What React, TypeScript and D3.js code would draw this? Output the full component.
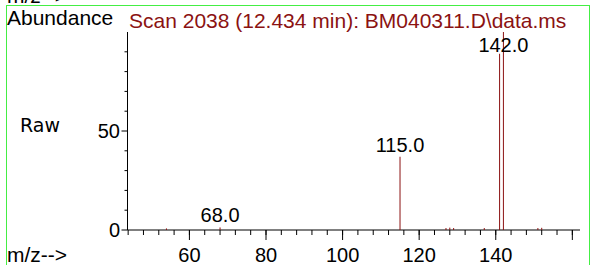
import React from "react";
import * as d3 from "d3";

// spectrum peaks (m/z, abundance)
const mzValues = [54, 68, 115, 127, 128, 129, 137, 141, 142, 151, 152];
const abundances = [0.8, 1.3, 37, 1, 1.2, 1, 1, 89, 100, 1, 1.1];
const labelledPeaks = [68, 115, 142];
const xTickLabels = [60, 80, 100, 120, 140];
const yTickLabels = [0, 50];
const title = "Scan 2038 (12.434 min): BM040311.D\\data.ms";

const W = 591, H = 265;
const FONT = "'Liberation Sans', Arial, sans-serif";
const RED = "#8b1212";

export default function App() {
  const x = d3.scaleLinear().domain([43.7, 162]).range([127, 580]);
  const y = d3.scaleLinear().domain([0, 100]).range([230, 32]);

  const minorX = d3.range(44, 161, 4);
  const majorX = d3.range(60, 161, 20);
  const minorY = d3.range(10, 100, 10).filter(v => v !== 50);

  return (
    <svg width={W} height={H} style={{ position: "absolute", left: 0, top: 0, background: "#fff" }}>
      {/* frame */}
      <rect x={6.5} y={5.5} width={583} height={H} fill="none" stroke="#44ee44" strokeWidth={1} />
      {/* clipped remnant of the panel above */}
      <text x={7} y={3} fontFamily={FONT} fontSize={21} fill="#000">m/z--&gt;</text>

      <text x={7} y={25} fontFamily={FONT} fontSize={21} fill="#000">Abundance</text>
      <text x={129} y={28} fontFamily={FONT} fontSize={21} fill={RED}>{title}</text>
      <text x={20} y={132} fontFamily="'DejaVu Sans', sans-serif" fontSize={19} fill="#000">Raw</text>
      <text x={7} y={262} fontFamily={FONT} fontSize={21} fill="#000">m/z--&gt;</text>

      {/* y axis */}
      <line x1={127.5} x2={127.5} y1={y(100)} y2={y(0)} stroke="#000" />
      {minorY.map(v => (
        <line key={"my" + v} x1={124.5} x2={127.5} y1={y(v)} y2={y(v)} stroke="#000" />
      ))}
      {yTickLabels.map(v => (
        <g key={"y" + v}>
          <line x1={121.5} x2={127.5} y1={y(v)} y2={y(v)} stroke="#000" />
          <text x={120} y={y(v)} dy="0.35em" textAnchor="end" fontFamily={FONT} fontSize={20}>{v}</text>
        </g>
      ))}

      {/* x axis */}
      <line x1={127.5} x2={580} y1={y(0)} y2={y(0)} stroke="#000" />
      {minorX.map(v => (
        <line key={"mx" + v} x1={x(v)} x2={x(v)} y1={y(0)} y2={y(0) + 5} stroke="#000" />
      ))}
      {majorX.map(v => (
        <line key={"Mx" + v} x1={x(v)} x2={x(v)} y1={y(0)} y2={y(0) + 10} stroke="#000" />
      ))}
      {xTickLabels.map(v => (
        <text key={"xl" + v} x={x(v)} y={262} textAnchor="middle" fontFamily={FONT} fontSize={20}>{v}</text>
      ))}

      {/* peaks */}
      {mzValues.map((m, i) => (
        <line key={"p" + m} x1={x(m)} x2={x(m)} y1={y(0)} y2={y(abundances[i])} stroke={RED} strokeWidth={1} />
      ))}
      {labelledPeaks.map(m => {
        const a = abundances[mzValues.indexOf(m)];
        return (
          <text key={"pl" + m} x={x(m)} y={Math.max(y(a) - 5, 51.5)} textAnchor="middle" fontFamily={FONT} fontSize={20} fill="#000">
            {m.toFixed(1)}
          </text>
        );
      })}
    </svg>
  );
}
